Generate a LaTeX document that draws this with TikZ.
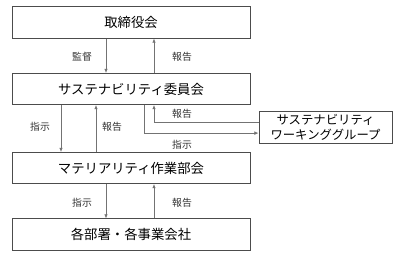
\documentclass[tikz,border=0pt]{standalone}
\usepackage{fontspec}
\setmainfont{Noto Sans CJK JP}
\usetikzlibrary{arrows.meta, positioning}

\begin{document}
\begin{tikzpicture}[x=0.025cm, y=-0.025cm,
  box/.style={draw=black!70, line width=0.6pt, minimum width=5.95cm, minimum height=0.78cm, inner sep=0pt, font=\fontsize{9.5}{11}\selectfont},
  lbl/.style={font=\fontsize{7}{8}\selectfont, text=black!80},
  arr/.style={draw=black!55, line width=0.5pt, -{Latex[length=3pt, width=2.6pt]}}]
  \useasboundingbox (0,0) rectangle (400,256);

  % boxes
  \node[box] (board) at (131,22.5) {取締役会};
  \node[box] (committee) at (131,89) {サステナビリティ委員会};
  \node[box] (materiality) at (131,168) {マテリアリティ作業部会};
  \node[box] (dept) at (131,234.5) {各部署・各事業会社};
  \node[box, minimum width=3.325cm, align=center, font=\fontsize{8.8}{11}\selectfont] (wg) at (325.5,127.5) {サステナビリティ\\ワーキンググループ};

  % arrow positions
  \coordinate (cA) at (106,0);
  \coordinate (cB) at (154,0);
  \coordinate (cC) at (61,0);
  \coordinate (cD) at (96,0);
  \coordinate (cE) at (144,0);

  % board - committee
  \draw[arr] (board.south -| cA) -- (committee.north -| cA);
  \draw[arr] (committee.north -| cB) -- (board.south -| cB);
  \node[lbl] (l1) at (82,57) {監督};
  \node[lbl] (l2) at (182,57) {報告};

  % committee - materiality
  \draw[arr] (committee.south -| cC) -- (materiality.north -| cC);
  \draw[arr] (materiality.north -| cD) -- (committee.south -| cD);
  \node[lbl] (l3) at (40,127) {指示};
  \node[lbl] (l4) at (112,127) {報告};

  % committee - working group
  \draw[arr] (committee.south -| cE) |- ([yshift=-0.14cm]wg.west);
  \draw[arr] ([yshift=0.14cm]wg.west) -| (committee.south -| cB);
  \node[lbl] (l5) at (182,114) {報告};
  \node[lbl] (l6) at (182,145) {指示};

  % materiality - departments
  \draw[arr] (materiality.south -| cA) -- (dept.north -| cA);
  \draw[arr] (dept.north -| cB) -- (materiality.south -| cB);
  \node[lbl] (l7) at (82,203) {指示};
  \node[lbl] (l8) at (182,203) {報告};
\end{tikzpicture}
\end{document}
